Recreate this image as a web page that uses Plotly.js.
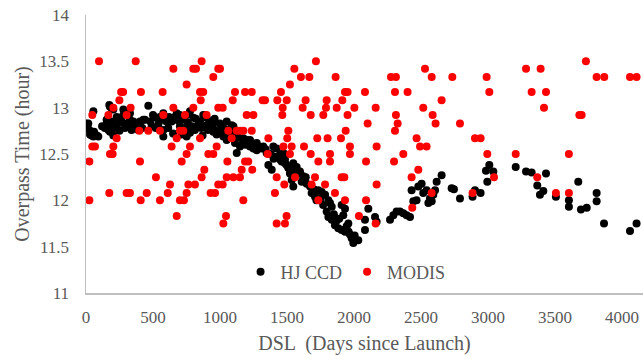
<!DOCTYPE html>
<html>
<head>
<meta charset="utf-8">
<script src="https://cdn.plot.ly/plotly-3.0.1.min.js"></script>
<style>html,body{margin:0;padding:0;background:#fff;}#chart{width:643px;height:355px;}</style>
</head>
<body>
<div id="chart"></div>
<script>
// HJ CCD overpass times (Days since launch, hour)
const hjDays = [55,5,17,25,30,42,55,80,92,174,192,179,204,154,154,167,167,179,204,
229,266,279,279,303,303,328,328,353,366,378,403,403,428,440,
465,490,527,552,577,577,577,577,614,639,664,677,701,714,726,751,751,776,776,801,813,838,851,875,888,900,900,925,938,950,950,963,975,988,1000,1013,1025,1025,1050,1050,1075,1087,1100,1100,1112,1125,1149,1174,1174,1199,1224,1224,1249,1274,1274,1311,1323,1348,1361,1386,1398,1423,1423,1448,1448,1473,1473,1485,1485,1497,1510,1510,1522,1535,1547,1547,1572,1572,1597,1597,1622,1622,1647,1672,1684,1709,1734,1759,1784,1796,1809,1809,1821,1834,1834,1858,1883,1908,1908,1920,1933,1933,1945,1958,1970,1983,1995,2032,2082,2082,2107,2157,2169,2269,2294,2318,2343,2368,2393,2418,2430,2443,2467,2480,2505,2517,2542,2555,2567,2580,2592,2605,2617,2654,2729,2746,2791,2885,2903,2945,2985,3010,2995,3040,3207,3284,3326,3368,3388,3413,3433,3507,3604,3604,3674,3694,3737,3811,3811,3866,4060,4109,
10,60,120,140,190,215,240,250,290,315,340,390,420,480,500,520,540,600,620,650,690,700,740,760,790,820,860,870,910,960,1010,1040,1060,1135,1160,1190,1260,1290,1340,1380,1400,1460,1530,1560,1610,1640,1700,1720,1750,1770,1850,1870,1890,1960,2005];
const hjHour = [12.96,12.83,12.83,12.76,12.71,12.70,12.69,12.70,12.69,13.03,12.99,13.01,12.98,12.83,12.87,12.76,12.80,12.74,12.70,
12.90,12.85,12.98,12.92,12.83,12.96,12.87,12.94,12.85,12.83,12.80,12.85,12.83,12.87,12.87,
13.02,12.80,12.89,12.90,12.94,12.87,12.76,12.69,12.78,12.85,12.90,12.94,12.80,12.71,12.87,12.92,12.69,12.96,12.73,12.89,12.76,12.81,12.85,12.92,12.92,12.89,12.81,12.85,12.80,12.74,12.83,12.76,12.71,12.72,12.83,12.80,12.78,12.69,12.85,12.65,12.72,12.81,12.74,12.80,12.62,12.51,12.58,12.67,12.63,12.65,12.65,12.58,12.56,12.62,12.54,12.56,12.58,12.51,12.38,12.33,12.58,12.47,12.56,12.44,12.49,12.49,12.51,12.40,12.44,12.38,12.36,12.35,12.29,12.22,12.40,12.15,12.33,12.36,12.29,12.31,12.26,12.22,12.18,12.15,12.08,12.04,12.11,12.09,12.06,11.88,12.00,11.82,11.97,11.93,11.79,11.73,11.70,11.68,11.95,11.84,11.66,11.91,11.72,11.75,11.63,11.59,11.54,11.57,11.79,11.68,11.91,11.82,11.77,11.79,11.84,11.88,11.88,11.86,11.84,11.82,12.11,11.99,12.00,12.15,12.18,12.08,12.11,11.97,12.02,11.99,12.06,12.11,12.20,12.27,12.13,12.12,12.02,12.04,12.11,12.08,12.32,12.38,12.20,12.31,12.36,12.31,12.30,12.16,12.06,12.10,12.29,12.04,12.00,11.93,12.20,11.90,11.92,12.08,11.99,11.75,11.67,11.75,
12.78,12.74,12.80,12.78,12.85,12.78,12.83,12.75,12.78,12.80,12.76,12.76,12.78,12.85,12.92,12.78,12.82,12.85,12.90,12.72,12.86,12.92,12.78,12.84,12.80,12.88,12.78,12.70,12.76,12.88,12.74,12.70,12.76,12.68,12.60,12.60,12.60,12.58,12.55,12.50,12.45,12.42,12.32,12.27,12.20,12.25,12.12,12.00,12.02,11.95,11.85,11.78,11.80,11.66,11.62];

// MODIS overpass times (Days since launch, hour)
const modisDays = [97,371,652,801,821,863,987,1000,950,751,262,277,410,572,851,875,1112,1187,1237,249,856,1095,1318,204,333,652,801,987,1020,47,167,303,577,739,900,1199,1249,398,465,552,701,726,1062,1125,1150,1175,1237,229,677,851,1087,1361,47,67,204,639,776,975,179,199,751,913,950,25,403,714,1055,1187,1211,522,883,863,1050,1100,1162,1149,1241,627,764,813,987,1020,174,303,328,453,610,751,930,963,25,408,552,701,731,1174,677,1045,1025,
1716,1555,1604,1667,1863,2276,2313,2530,2580,2734,1522,1455,1933,1952,2082,2306,2400,1336,1428,1498,1639,1796,1913,2654,1468,1617,1791,1871,2003,2162,2517,1465,1677,1771,1952,2313,2587,2102,2326,2609,1510,1938,2306,1502,1726,1803,1903,2467,1473,1535,1627,1970,2169,2493,2542,1356,1522,1677,1821,1970,2368,1734,1821,2090,2299,2480,1423,1560,1709,1908,1928,2430,1480,1684,1784,2169,1410,1858,2580,1734,1933,2090,1497,2037,2435,1423,1485,2162,
2990,3284,3393,3731,3811,3868,4060,4109,3010,3326,3433,3418,3682,3699,2791,2903,2945,2995,3207,3604,3045,3368,2885,3507,3604];
const modisHour = [13.5,13.5,13.42,13.42,13.42,13.5,13.42,13.42,13.33,13.25,13.17,13.17,13.17,13.17,13.17,13.17,13.17,13.17,13.17,13.08,13.08,13.08,13.08,13.0,13.0,13.0,13.0,13.0,13.0,12.92,12.92,12.92,12.92,12.92,12.92,12.92,12.92,12.75,12.75,12.75,12.75,12.75,12.75,12.75,12.75,12.75,12.75,12.67,12.67,12.67,12.67,12.67,12.58,12.58,12.58,12.58,12.58,12.58,12.5,12.5,12.5,12.5,12.5,12.42,12.42,12.42,12.42,12.42,12.42,12.25,12.33,12.25,12.25,12.25,12.33,12.25,12.33,12.17,12.17,12.17,12.17,12.17,12.08,12.08,12.08,12.08,12.08,12.08,12.08,12.08,12.0,12.0,12.0,12.0,12.0,12.0,11.83,11.83,11.75,
13.5,13.42,13.33,13.33,13.33,13.33,13.33,13.42,13.33,13.33,13.25,13.17,13.17,13.17,13.17,13.17,13.17,13.08,13.08,13.08,13.08,13.08,13.08,13.08,13.0,13.0,13.0,13.0,13.0,13.0,13.0,12.92,12.92,12.92,12.92,12.92,12.92,12.83,12.83,12.83,12.75,12.75,12.75,12.67,12.67,12.67,12.67,12.67,12.58,12.58,12.58,12.58,12.58,12.58,12.58,12.5,12.5,12.5,12.5,12.5,12.5,12.42,12.42,12.42,12.42,12.33,12.25,12.25,12.25,12.25,12.25,12.25,12.17,12.17,12.17,12.17,12.08,12.08,12.08,12.0,12.0,12.0,11.83,11.83,11.92,11.75,11.75,11.75,
13.33,13.42,13.42,13.5,13.33,13.33,13.33,13.33,13.17,13.17,13.17,13.0,12.92,12.92,12.83,12.67,12.67,12.5,12.5,12.5,12.25,12.25,12.08,12.08,12.08];

const seriesNames = ['HJ CCD', 'MODIS'];
const xTicks = [0,500,1000,1500,2000,2500,3000,3500,4000];
const yTicks = [11,11.5,12,12.5,13,13.5,14];
const yTickText = ['11','11.5','12','12.5','13','13.5','14'];

const FONT = '"Liberation Serif", "Times New Roman", Times, serif';
const GREY = '#595959';

const traces = [
  {x: hjDays, y: hjHour, name: seriesNames[0], type: 'scatter', mode: 'markers',
   marker: {color: '#000000', size: 8}},
  {x: modisDays, y: modisHour, name: seriesNames[1], type: 'scatter', mode: 'markers',
   marker: {color: '#ff0000', size: 8}}
];

const layout = {
  width: 643, height: 355,
  margin: {l: 86, r: 0, t: 15, b: 62},
  paper_bgcolor: '#ffffff', plot_bgcolor: '#ffffff',
  font: {family: FONT, color: GREY, size: 16},
  showlegend: true,
  legend: {orientation: 'h', x: 0.466, xanchor: 'center', y: 0.075, yanchor: 'middle',
           font: {family: FONT, size: 18, color: GREY}, bgcolor: 'rgba(0,0,0,0)',
           itemwidth: 30, tracegroupgap: 0},
  xaxis: {
    range: [0, 4157], tickvals: xTicks, ticktext: xTicks.map(String),
    showgrid: false, zeroline: false, showline: true, linecolor: '#bfbfbf', linewidth: 1.5,
    ticks: '', ticklabelstandoff: 8,
    tickfont: {family: FONT, size: 17, color: GREY},
    title: {text: 'DSL  (Days since Launch)', font: {family: FONT, size: 20, color: GREY}, standoff: 10}
  },
  yaxis: {
    range: [11, 14], tickvals: yTicks, ticktext: yTickText,
    showgrid: false, zeroline: false, showline: true, linecolor: '#bfbfbf', linewidth: 1.5,
    ticks: '', ticklabelstandoff: 12,
    tickfont: {family: FONT, size: 17, color: GREY},
    title: {text: 'Overpass Time (hour)', font: {family: FONT, size: 20, color: GREY}, standoff: 4}
  }
};

Plotly.newPlot('chart', traces, layout, {displayModeBar: false, staticPlot: true});
</script>
</body>
</html>
